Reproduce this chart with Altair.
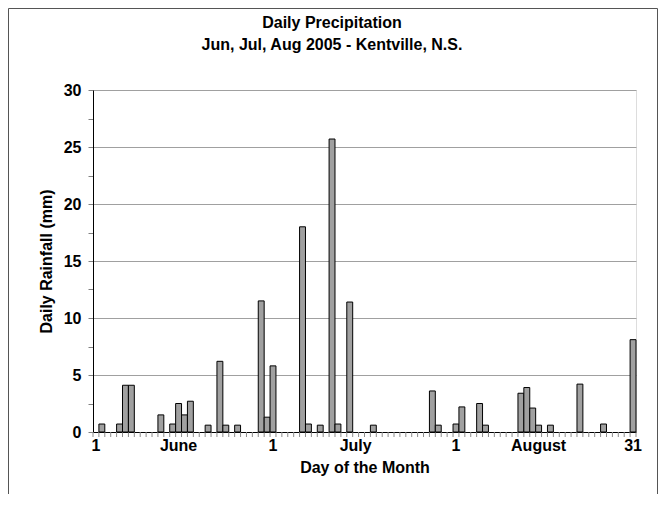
import altair as alt
import pandas as pd

# ---- data ----
rain_month = (["Jun"] * 15) + (["Jul"] * 10) + (["Aug"] * 12)
rain_day = [2, 5, 6, 7, 12, 14, 15, 16, 17, 20, 22, 23, 25, 29, 30,
            1, 6, 7, 9, 11, 12, 14, 18, 28, 29,
            1, 2, 5, 6, 12, 13, 14, 15, 17, 22, 26, 31]
rain_mm = [0.7, 0.7, 4.1, 4.1, 1.5, 0.7, 2.5, 1.5, 2.7, 0.6, 6.2, 0.6, 0.6, 11.5, 1.3,
           5.8, 18.0, 0.7, 0.6, 25.7, 0.7, 11.4, 0.6, 3.6, 0.6,
           0.7, 2.2, 2.5, 0.6, 3.4, 3.9, 2.1, 0.6, 0.6, 4.2, 0.7, 8.1]

month_offset = {"Jun": 0, "Jul": 30, "Aug": 61}
total_days = 92

tick_label_month = ["Jun", "Jun", "Jul", "Jul", "Aug", "Aug", "Aug"]
tick_label_day = [1, 15, 1, 15, 1, 15, 31]
tick_label_text = ["1", "June", "1", "July", "1", "August", "31"]

y_ticks = [0, 2.5, 5, 7.5, 10, 12.5, 15, 17.5, 20, 22.5, 25, 27.5, 30]

title_lines = ["Daily Precipitation", "Jun, Jul, Aug 2005 - Kentville, N.S."]

FONT = "Liberation Sans"
W, H = 543, 342
PAD = {"left": 85, "top": 82, "right": 22, "bottom": 62}

idx = [month_offset[m] + d - 1 for m, d in zip(rain_month, rain_day)]
df = pd.DataFrame({"x0": idx, "x1": [i + 1 for i in idx], "mm": rain_mm,
                   "base": [0] * len(idx)})

lab_idx = [month_offset[m] + d - 1 + 0.5 for m, d in zip(tick_label_month, tick_label_day)]
labels_df = pd.DataFrame({"x0": lab_idx, "txt": tick_label_text})
ticks_df = pd.DataFrame({"x0": list(range(total_days + 1))})

xscale = alt.Scale(domain=[0, total_days], nice=False, zero=False)
yscale = alt.Scale(domain=[0, 30], nice=False)

bars = alt.Chart(df).mark_bar(
    fill="#a0a0a0", stroke="black", strokeWidth=1
).encode(
    x=alt.X("x0:Q", scale=xscale,
            axis=alt.Axis(values=[0], labels=False, ticks=False,
                          domainColor="black",
                          grid=False, title="Day of the Month",
                          titleFont=FONT, titleFontSize=16, titleFontWeight="bold",
                          titleColor="black", titleBaseline="alphabetic",
                          titlePadding=40)),
    x2="x1:Q",
    y=alt.Y("mm:Q", scale=yscale,
            axis=alt.Axis(values=y_ticks,
                          labelExpr="datum.value % 5 === 0 ? datum.label : ''",
                          labelFont=FONT, labelFontSize=16, labelFontWeight="bold",
                          labelColor="black", labelPadding=7,
                          tickSize=5, tickColor="#808080", domainColor="black",
                          grid=True, gridColor="#a0a0a0",
                          gridOpacity={"condition": {"test": "datum.value % 5 !== 0", "value": 0},
                                       "value": 1},
                          title="Daily Rainfall (mm)",
                          titleFont=FONT, titleFontSize=16, titleFontWeight="bold",
                          titleColor="black", titlePadding=9)),
    y2="base:Q",
)

xticks = alt.Chart(ticks_df).mark_rule(color="#8c8c8c", strokeWidth=1).encode(
    x=alt.X("x0:Q", scale=xscale),
    y=alt.value(H),
    y2=alt.value(H + 5),
)

xlabels = alt.Chart(labels_df).mark_text(
    font=FONT, fontSize=16, fontWeight="bold", color="black",
    baseline="alphabetic", align="center"
).encode(
    x=alt.X("x0:Q", scale=xscale),
    y=alt.value(H + 19),
    text="txt:N",
)

frame_df = pd.DataFrame({"a": [0]})
frame = alt.Chart(frame_df).mark_rect(
    fill="transparent", stroke="#555555", strokeWidth=1
).encode(
    x=alt.value(-PAD["left"] + 0.5), x2=alt.value(W + PAD["right"] - 0.5),
    y=alt.value(-PAD["top"] + 0.5), y2=alt.value(H + 200),
)

t1 = alt.Chart(frame_df).mark_text(
    text=title_lines[0], font=FONT, fontSize=16, fontWeight="bold",
    color="black", align="center", baseline="alphabetic"
).encode(x=alt.value(239), y=alt.value(-62))

t2 = alt.Chart(frame_df).mark_text(
    text=title_lines[1], font=FONT, fontSize=16, fontWeight="bold",
    color="black", align="center", baseline="alphabetic"
).encode(x=alt.value(239), y=alt.value(-40))

chart = alt.layer(xticks, bars, xlabels, frame, t1, t2).properties(
    width=W, height=H,
    autosize=alt.AutoSizeParams(type="none"),
    padding=PAD,
).configure_view(stroke=None).configure(background="white")

chart.save("out.html", embed_options={"renderer": "svg", "actions": False})
